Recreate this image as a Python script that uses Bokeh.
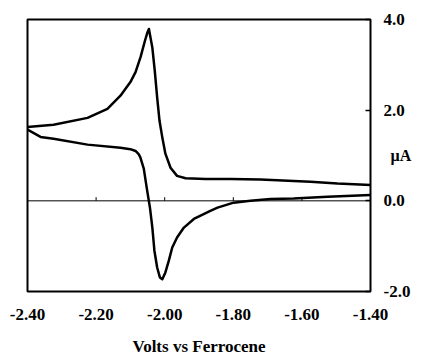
from bokeh.plotting import figure
from bokeh.models import Range1d, FixedTicker, PrintfTickFormatter, Span
from bokeh.embed import file_html
from bokeh.resources import INLINE

# Upper branch (oxidation peak)
upper_v = [-2.400, -2.324, -2.225, -2.167, -2.129, -2.100, -2.085, -2.070, -2.058,
           -2.051, -2.046, -2.036, -2.029, -2.022, -2.015, -2.007, -1.998, -1.983,
           -1.964, -1.939, -1.881, -1.808, -1.721, -1.575, -1.496, -1.400]
upper_i = [1.63, 1.68, 1.83, 2.03, 2.32, 2.62, 2.84, 3.18, 3.52,
           3.70, 3.79, 3.38, 2.87, 2.28, 1.76, 1.40, 1.04, 0.73,
           0.55, 0.50, 0.48, 0.48, 0.47, 0.42, 0.38, 0.35]

# Lower branch (reduction peak)
lower_v = [-2.400, -2.362, -2.324, -2.225, -2.129, -2.100, -2.085, -2.076, -2.071,
           -2.061, -2.051, -2.043, -2.036, -2.030, -2.022, -2.014, -2.007, -1.998,
           -1.988, -1.978, -1.964, -1.944, -1.915, -1.867, -1.846, -1.799, -1.750,
           -1.692, -1.624, -1.525, -1.400]
lower_i = [1.57, 1.41, 1.37, 1.24, 1.17, 1.14, 1.10, 1.03, 0.96,
           0.71, 0.22, -0.15, -0.59, -1.10, -1.47, -1.69, -1.73, -1.58,
           -1.32, -1.03, -0.81, -0.59, -0.40, -0.22, -0.15, -0.04, 0.00,
           0.04, 0.05, 0.09, 0.13]

x_ticks = [-2.40, -2.20, -2.00, -1.80, -1.60, -1.40]
y_ticks = [-2.0, 0.0, 2.0, 4.0]
x_title = "Volts vs Ferrocene"
y_unit = "\u00b5A"

FONT = "'Liberation Serif', 'DejaVu Serif', serif"

p = figure(width=437, height=358, output_backend="svg", toolbar_location=None,
           x_range=Range1d(-2.40, -1.40), y_range=Range1d(-2.0, 4.0),
           y_axis_location="right", x_axis_location="below",
           min_border_left=27, min_border_right=67, min_border_top=19, min_border_bottom=67)

p.grid.visible = False
p.outline_line_color = "black"
p.outline_line_width = 2
p.background_fill_color = "white"
p.border_fill_color = "white"

# x axis
xa = p.xaxis[0]
xa.ticker = FixedTicker(ticks=x_ticks)
xa.formatter = PrintfTickFormatter(format="%.2f")
xa.axis_line_color = None
xa.major_tick_line_color = None
xa.major_tick_out = 0
xa.major_tick_in = 0
xa.minor_tick_line_color = None
xa.major_label_standoff = 17
xa.major_label_text_font = FONT
xa.major_label_text_font_style = "bold"
xa.major_label_text_font_size = "17px"
xa.major_label_text_color = "black"
xa.axis_label = x_title
xa.axis_label_standoff = 14
xa.axis_label_text_font = FONT
xa.axis_label_text_font_style = "bold"
xa.axis_label_text_font_size = "17px"
xa.axis_label_text_color = "black"

# y axis on the right
ya = p.yaxis[0]
ya.ticker = FixedTicker(ticks=y_ticks)
ya.formatter = PrintfTickFormatter(format="%.1f")
ya.axis_line_color = None
ya.major_tick_in = 5
ya.major_tick_out = 0
ya.major_tick_line_color = "black"
ya.major_tick_line_width = 1.5
ya.minor_tick_line_color = None
ya.major_label_standoff = 13
ya.major_label_text_font = FONT
ya.major_label_text_font_style = "bold"
ya.major_label_text_font_size = "17px"
ya.major_label_text_color = "black"
ya.axis_label = y_unit
ya.axis_label_orientation = "horizontal"
ya.axis_label_standoff = -23
ya.axis_label_text_font = FONT
ya.axis_label_text_font_style = "bold"
ya.axis_label_text_font_size = "16px"
ya.axis_label_text_color = "black"

# zero line with small ticks
p.add_layout(Span(location=0, dimension="width", line_color="black", line_width=1))
p.segment(x0=x_ticks[1:-1], y0=[0] * 4, x1=x_ticks[1:-1], y1=[0.08] * 4,
          line_color="black", line_width=1)

# curves
p.line(upper_v, upper_i, line_color="black", line_width=2.5, line_join="round")
p.line(lower_v, lower_i, line_color="black", line_width=2.5, line_join="round")

open("out.html", "w").write(file_html(p, INLINE))
